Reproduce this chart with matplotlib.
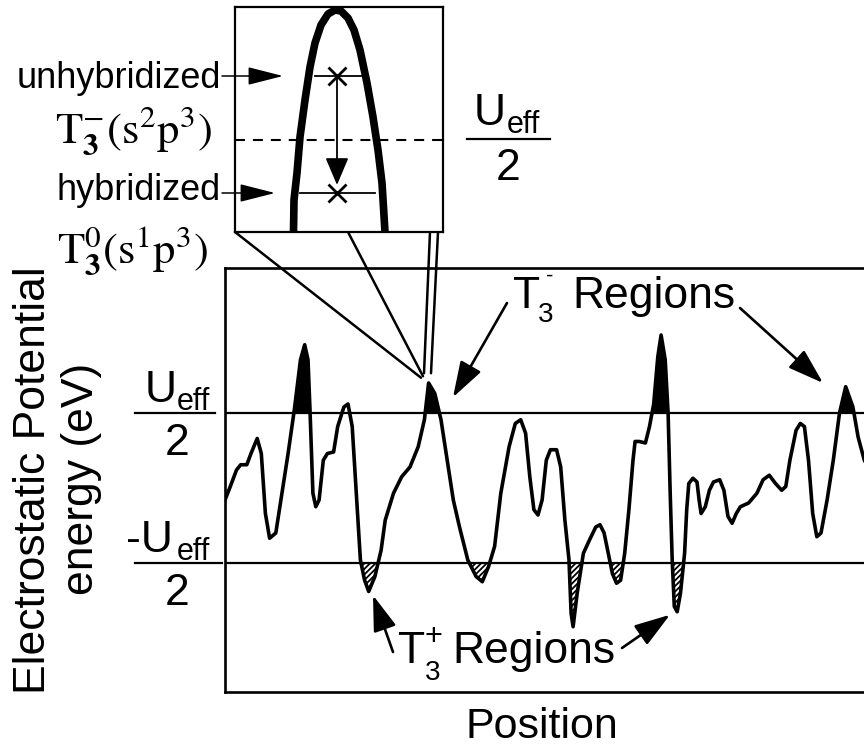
import numpy as np
import matplotlib
matplotlib.use("Agg")
import matplotlib.pyplot as plt
from matplotlib.lines import Line2D

plt.rcParams['font.family'] = ['Liberation Sans', 'DejaVu Sans']
plt.rcParams['hatch.linewidth'] = 1.3

W, H = 864, 750

# main trace: position (arb.) and energy in units of Ueff/2
pos = np.array([0, 5.3, 11.5, 15.7, 21.8, 26, 32.2, 36.3, 40.4, 44.6,
                50.8, 57, 63.1, 69.3, 75.5, 79.7, 83, 85, 87.9, 90.8,
                94.1, 98.3, 102.4, 108.6, 112.7, 118.9, 123, 127.2, 131.3, 135.4,
                139.6, 143.7, 149.9, 156.1, 160.2, 168.5, 176.7, 185, 193.2, 199.4,
                203.6, 209.8, 216, 222.2, 228.3, 234.5, 242.8, 251.1, 257.3, 263.5,
                269.6, 275.8, 284.1, 290.3, 295.7, 300.6, 304.8, 308.9, 313, 317.1,
                321.3, 325.4, 331.6, 335.7, 339.9, 344, 346.1, 348.1, 352.2, 358.4,
                364.6, 370.8, 375, 379.1, 383.2, 387.4, 391.5, 395.6, 399.7, 403.9,
                408, 410.1, 414.2, 420.4, 424.5, 428.7, 432.8, 436.1, 440.2, 443.1,
                445.2, 447.2, 449.3, 452.2, 455.5, 459.6, 461.7, 463.8, 467.9, 472,
                474.1, 476.1, 480.3, 484.4, 488.5, 494.7, 498.9, 503, 507.1, 511.3,
                515.4, 523.6, 531.9, 538.1, 544.3, 550.5, 556.7, 560.8, 564.9, 571.1,
                575.3, 579.4, 583.5, 587.7, 591.8, 596, 602.1, 608.3, 614.5, 620.7,
                627.9, 633.1, 639.3, 645])
energy = np.array([-0.16, 0.02, 0.24, 0.31, 0.31, 0.46, 0.66, 0.46, -0.34, -0.67,
                   -0.60, -0.07, 0.46, 1.04, 1.71, 1.91, 1.71, 1.04, -0.07, -0.25,
                   -0.16, 0.37, 0.46, 0.48, 0.82, 1.08, 1.12, 0.82, -0.07, -0.96,
                   -1.23, -1.38, -1.18, -0.83, -0.43, -0.07, 0.15, 0.28, 0.55, 0.91,
                   1.40, 1.26, 0.91, 0.37, -0.16, -0.52, -0.96, -1.18, -1.25, -1.05,
                   -0.78, -0.07, 0.55, 0.86, 0.91, 0.73, 0.15, -0.29, -0.36, -0.16,
                   0.37, 0.51, 0.51, 0.28, -0.43, -0.96, -1.67, -1.85, -1.40, -0.87,
                   -0.69, -0.52, -0.49, -0.60, -0.87, -1.14, -1.27, -1.23, -0.87, -0.29,
                   0.37, 0.62, 0.62, 0.60, 0.82, 1.12, 1.75, 2.04, 1.71, 1.00,
                   -0.07, -0.96, -1.58, -1.65, -1.40, -0.87, -0.29, 0.06, 0.13, 0.08,
                   -0.16, -0.34, -0.25, -0.03, 0.08, 0.11, -0.03, -0.38, -0.47, -0.34,
                   -0.25, -0.20, -0.07, 0.11, 0.17, 0.06, -0.03, 0.02, 0.37, 0.77,
                   0.86, 0.82, 0.37, -0.34, -0.65, -0.60, -0.16, 0.37, 1.00, 1.35,
                   1.08, 0.68, 0.37, 0.24])

u_half = 1.0
t3_minus_peaks = [79.7, 203.6, 436.1, 620.7]   # marked (black) T3- sites

# magnified peak in the inset (local units)
inset_x = [58, 58.5, 59, 62, 65, 70, 75, 80, 86, 93, 100, 106, 113, 119, 125, 132, 138, 143, 147, 150, 151]
inset_y = [-5, 0, 32, 59, 95, 132, 165, 189, 207, 218, 222, 221, 214, 202, 182, 149, 115, 82, 49, 0, -5]
inset_ueff = 92
unhyb_level, hyb_level = 156, 39
unhyb_span = [80, 128]
hyb_span = [65, 140]
peak_x = 102


def fp(x, y):
    # figure pixel (top-left origin) -> figure fraction
    return x / W, 1 - y / H


fig = plt.figure(figsize=(8.64, 7.5), dpi=100)

# ---- main panel ----
ax = fig.add_axes([225 / W, 1 - 692 / H, (870 - 225) / W, (692 - 268) / H])
ax.set_xlim(0, 645)
ax.set_ylim(-2.72, 2.933)
ax.set_xticks([])
ax.set_yticks([])
for s in ax.spines.values():
    s.set_linewidth(1.9)
ax.spines['right'].set_visible(False)

near = np.zeros(len(pos), dtype=bool)
for p in t3_minus_peaks:
    near |= np.abs(pos - p) < 12
ax.fill_between(pos, u_half, energy, where=(energy > u_half) & near,
                interpolate=True, color='black', lw=0)
ax.fill_between(pos, energy, -u_half, where=energy < -u_half, interpolate=True,
                facecolor='white', edgecolor='black', hatch='//////', lw=0)
ax.axhline(u_half, color='black', lw=1.6)
ax.axhline(-u_half, color='black', lw=1.6)
ax.plot(pos, energy, color='black', lw=2.6, solid_joinstyle='round')

# y "tick" labels  Ueff/2 and -Ueff/2
for lvl, txt, ux, bar in [(413, 'U', 145, (135, 215)), (563, '-U', 126, (135, 222))]:
    fig.text(*fp(ux, lvl - 11), txt, fontsize=32, va='baseline', ha='left')
    fig.text(*fp(177, lvl - 3), 'eff', fontsize=22, va='baseline', ha='left')
    fig.add_artist(Line2D([bar[0] / W, bar[1] / W], [1 - lvl / H] * 2, color='black', lw=1.6))
    fig.text(*fp(177, lvl + 42), '2', fontsize=32, va='baseline', ha='center')

# axis labels
fig.text(*fp(45, 480), 'Electrostatic Potential', fontsize=32, rotation=90,
         rotation_mode='anchor', ha='center', va='baseline')
fig.text(*fp(93, 479), 'energy (eV)', fontsize=32, rotation=90,
         rotation_mode='anchor', ha='center', va='baseline')
fig.text(*fp(542, 738), 'Position', fontsize=31, ha='center', va='baseline')

# T3- regions label
fig.text(*fp(513, 308), 'T', fontsize=32, va='baseline')
fig.text(*fp(538, 322), '3', fontsize=20, va='baseline')
fig.text(*fp(546, 282), '-', fontsize=16, va='baseline')
fig.text(*fp(572, 308), 'Regions', fontsize=32, va='baseline')

# T3+ regions label
fig.text(*fp(398, 663), 'T', fontsize=32, va='baseline')
fig.text(*fp(425, 680), '3', fontsize=20, va='baseline')
fig.text(*fp(425, 645), '+', fontsize=22, va='baseline')
fig.text(*fp(452, 663), 'Regions', fontsize=32, va='baseline')

big_head = dict(arrowstyle='-|>,head_length=1.1,head_width=0.36', mutation_scale=20,
                lw=1.9, color='black', shrinkA=0, shrinkB=0)
ax.annotate('', xy=(228, 1.21), xytext=(507, H - 303), textcoords='figure pixels',
            arrowprops=big_head, annotation_clip=False)
ax.annotate('', xy=(598, 1.40), xytext=(740, H - 308), textcoords='figure pixels',
            arrowprops=big_head, annotation_clip=False)
ax.annotate('', xy=(148, -1.43), xytext=(393, H - 652), textcoords='figure pixels',
            arrowprops=big_head, annotation_clip=False)
ax.annotate('', xy=(445, -1.69), xytext=(622, H - 648), textcoords='figure pixels',
            arrowprops=big_head, annotation_clip=False)

# ---- inset ----
ins = fig.add_axes([235 / W, 1 - 232 / H, 208 / W, 225 / H])
ins.set_xlim(0, 208)
ins.set_ylim(0, 225)
ins.set_xticks([])
ins.set_yticks([])
for s in ins.spines.values():
    s.set_linewidth(1.6)
ins.plot(inset_x, inset_y, color='black', lw=5.5, solid_joinstyle='round')
ins.axhline(inset_ueff, color='black', lw=1.5, ls=(0, (4.8, 3.8)))
ins.plot(unhyb_span, [unhyb_level] * 2, color='black', lw=1.3)
ins.plot(hyb_span, [hyb_level] * 2, color='black', lw=1.3)
ins.plot([peak_x, peak_x], [unhyb_level, hyb_level], ls='none', marker='x',
         ms=13, mew=2, color='black')
ins.annotate('', xy=(peak_x, hyb_level + 8), xytext=(peak_x, unhyb_level),
             arrowprops=dict(arrowstyle='-|>,head_length=0.85,head_width=0.36',
                             mutation_scale=20, lw=1.3, color='black',
                             shrinkA=0, shrinkB=0))

# connector lines from inset to the magnified peak
for (fx_, fy_), (dx, dy) in [((235, 232), (196, 1.47)), ((348, 232), (198, 1.49)),
                             ((430, 232), (199, 1.53)), ((438, 232), (206, 1.53))]:
    ax.annotate('', xy=(dx, dy), xytext=(fx_, H - fy_), textcoords='figure pixels',
                arrowprops=dict(arrowstyle='-', lw=1.8, color='black',
                                shrinkA=0, shrinkB=0), annotation_clip=False)

# labels pointing into the inset
small_head = dict(arrowstyle='-|>,head_length=1.1,head_width=0.28', mutation_scale=20,
                  lw=1.1, color='black', shrinkA=0, shrinkB=0)
fig.text(*fp(221, 88), 'unhybridized', fontsize=26, ha='right', va='baseline')
ins.annotate('', xy=(48, unhyb_level), xytext=(222, H - 76), textcoords='figure pixels',
             arrowprops=small_head, annotation_clip=False)
fig.text(*fp(221, 200), 'hybridized', fontsize=26, ha='right', va='baseline')
ins.annotate('', xy=(40, hyb_level), xytext=(222, H - 193), textcoords='figure pixels',
             arrowprops=small_head, annotation_clip=False)

fig.text(*fp(55, 143), r'$\mathrm{T}_{\mathbf{3}}^{-}(\mathrm{s}^{2}\mathrm{p}^{3})$',
         fontsize=32, math_fontfamily='stix', va='baseline')
fig.text(*fp(57, 263), r'$\mathrm{T}_{\mathbf{3}}^{0}(\mathrm{s}^{1}\mathrm{p}^{3})$',
         fontsize=32, math_fontfamily='stix', va='baseline')

# Ueff/2 next to the inset
fig.text(*fp(474, 125), 'U', fontsize=32, va='baseline')
fig.text(*fp(507, 133), 'eff', fontsize=22, va='baseline')
fig.add_artist(Line2D([467 / W, 550 / W], [1 - 139 / H] * 2, color='black', lw=1.6))
fig.text(*fp(508, 180), '2', fontsize=32, ha='center', va='baseline')

fig.savefig('out.png', dpi=100)
